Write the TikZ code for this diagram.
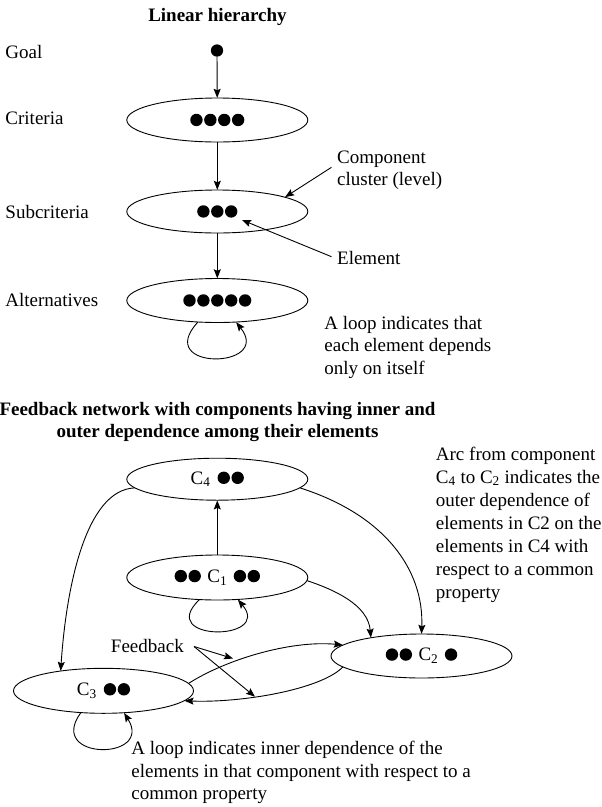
\documentclass[tikz,border=0pt]{standalone}
\usepackage{fontspec}
\setmainfont{Liberation Serif}
\usetikzlibrary{shapes.geometric,arrows.meta,calc}

% one element of a cluster: a filled disc sitting at mid cap height
\newcommand\elm{\tikz[baseline=-6.3pt]\fill (0,0) circle[radius=6.2pt];}
\newcommand\eg{\hspace{1.5pt}}

\begin{document}
\begin{tikzpicture}[x=1pt,y=-1pt,
  line width=0.9pt,
  >={Stealth[length=9pt,width=7pt,inset=1.5pt]},
  comp/.style={ellipse,draw,minimum width=181pt,minimum height=44pt,inner sep=0pt,
    font=\fontsize{19}{22.6}\selectfont},
  txt/.style={inner sep=0pt,anchor=base west,font=\fontsize{19}{22.6}\selectfont},
  para/.style={txt,align=left},
  ttl/.style={inner sep=0pt,anchor=base,align=center,font=\fontsize{19}{22.6}\selectfont\bfseries}]
\useasboundingbox (0,0) rectangle (602,807);

% ---------------- linear hierarchy ----------------
\node[ttl] (t1) at (217.5,21.5) {Linear hierarchy};

\node[txt] (lgoal) at (5,58) {Goal};
\node[txt] (lcrit) at (5,124.5) {Criteria};
\node[txt] (lsub) at (5,218.5) {Subcriteria};
\node[txt] (lalt) at (5,306.5) {Alternatives};

\node[circle,fill,inner sep=0pt,minimum size=12.3pt] (goal) at (217,50.5) {};
\node[comp] (crit) at (217.3,120) {\elm\eg\elm\eg\elm\eg\elm};
\node[comp,minimum height=43pt] (sub) at (217.3,211.5) {\elm\eg\elm\eg\elm};
\node[comp] (alt) at (217.3,300.5) {\elm\eg\elm\eg\elm\eg\elm\eg\elm};

\draw[->] (goal) -- (crit);
\draw[->] (crit) -- (sub);
\draw[->] (sub) -- (alt);
\draw[->] (alt.228) .. controls ($(alt.228)+(-45,49)$) and ($(alt.311)+(37,47)$) .. (alt.311);

% multi-line notes are placed by the baseline of their last line
\node[para] (ncl) at (336.7,185.6) {Component\\cluster (level)};
\coordinate (ncs) at (331.5,167.3);
\draw[->] (ncs) -- (sub.12);

\node[txt] (nel) at (336.7,264.8) {Element};
\coordinate (nes) at (331.5,256.7);
\coordinate (elt) at (242,220);
\draw[->] (nes) -- (elt);

\node[para] (nloop) at (324,374.2) {A loop indicates that\\each element depends\\only on itself};

% ---------------- feedback network ----------------
\node[ttl] (t2) at (217.5,437.6) {Feedback network with components having inner and\\outer dependence among their elements};

\node[comp,minimum height=42pt] (c4) at (217.3,479.2) {C\textsubscript{4}\hspace{7pt}\elm\eg\elm};
\node[comp,minimum height=45pt] (c1) at (217.3,577.5) {\elm\eg\elm\hspace{6.5pt}C\textsubscript{1}\hspace{6.5pt}\elm\eg\elm};
\node[comp] (c2) at (421.5,656) {\elm\eg\elm\hspace{6.5pt}C\textsubscript{2}\hspace{6.5pt}\elm};
\node[comp,minimum width=180pt,minimum height=45pt] (c3) at (103.5,690.8) {C\textsubscript{3}\hspace{7pt}\elm\eg\elm};

\draw[->] (c1) -- (c4);
\draw[->] (c4.354) .. controls (385,515) and (424,570) .. (c2.north);
\draw[->] (c4.186) .. controls (85,490) and (66,590) .. (c3.155);
\draw[->] (c1.358) .. controls (335,590) and (368,605) .. (c2.160);
\draw[->] (c3.5) .. controls (225,660) and (290,640) .. (c2.172);
\draw[->] (c2.188) .. controls (320,690) and (240,703) .. (c3.353);

\draw[->] (c1.231) .. controls ($(c1.231)+(-44,42)$) and ($(c1.313)+(35,42)$) .. (c1.313);
\draw[->] (c3.224) .. controls ($(c3.224)+(-35,48)$) and ($(c3.313)+(30,48)$) .. (c3.313);

\node[txt] (fb) at (110.5,652.5) {Feedback};
\coordinate (fbo) at (194,646.5);
\coordinate (fb1) at (233,658.5);
\coordinate (fb2) at (255,696.7);
\draw[->] (fbo) -- (fb1);
\draw[->] (fbo) -- (fb2);

\node[para,font=\fontsize{19}{23}\selectfont] (narc) at (435.5,598)
  {Arc from component\\C\textsubscript{4} to C\textsubscript{2} indicates the\\outer dependence of\\elements in C2 on the\\elements in C4 with\\respect to a common\\property};

\node[para] (nin) at (131,799.7)
  {A loop indicates inner dependence of the\\elements in that component with respect to a\\common property};
\end{tikzpicture}
\end{document}
